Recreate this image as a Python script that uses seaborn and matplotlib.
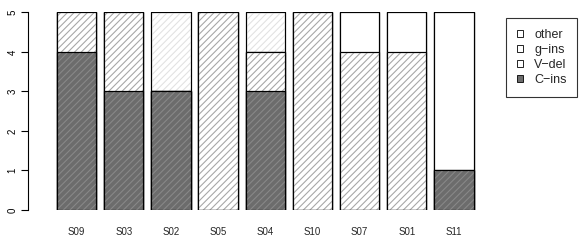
import matplotlib
matplotlib.use("Agg")
import matplotlib.pyplot as plt
from matplotlib.patches import Rectangle, Patch
import matplotlib.colors as mcolors
import seaborn as sns
import pandas as pd
import numpy as np

samples = ["S09", "S03", "S02", "S05", "S04", "S10", "S07", "S01", "S11"]
c_ins = [4, 3, 3, 0, 3, 0, 0, 0, 1]
v_del = [1, 2, 0, 5, 1, 5, 4, 4, 0]
g_ins = [0, 0, 0, 0, 0, 0, 1, 1, 4]
other = [0, 0, 2, 0, 1, 0, 0, 0, 0]
layer_names = ["C-ins", "V-del", "g-ins", "other"]
layer_values = [c_ins, v_del, g_ins, other]
y_ticks = [0, 1, 2, 3, 4, 5]

fills = {"C-ins": "#6c6c6c", "V-del": "white", "g-ins": "white", "other": "white"}
hatch_colors = {"C-ins": "#888888", "V-del": "#a8a8a8", "g-ins": None, "other": "#e2e2e2"}

sns.set_style("white")
plt.rcParams["font.family"] = ["Liberation Sans", "DejaVu Sans"]
plt.rcParams["hatch.linewidth"] = 0.8

W, H, DPI = 580, 242, 100
fig = plt.figure(figsize=(W / DPI, H / DPI), dpi=DPI)
left_px, right_px = 28, 480
bot_px, top_px = 210, 12.3
ax = fig.add_axes([left_px / W, 1 - bot_px / H, (right_px - left_px) / W, (bot_px - top_px) / H])

bar_w = 0.833
cum = np.cumsum(np.array(layer_values), axis=0)
order_draw = list(range(len(layer_names)))[::-1]
z = 1
for i in order_draw:
    name = layer_names[i]
    df = pd.DataFrame({"sample": samples, "value": cum[i]})
    n0 = len(ax.patches)
    sns.barplot(data=df, x="sample", y="value", order=samples, color=fills[name],
                saturation=1, edgecolor="black", linewidth=0.8, width=bar_w, ax=ax,
                errorbar=None)
    new = ax.patches[n0:]
    for p in new:
        p.set_zorder(z)
        p.set_facecolor(fills[name])
        if hatch_colors[name]:
            r = Rectangle(p.get_xy(), p.get_width(), p.get_height(), facecolor="none",
                          edgecolor=hatch_colors[name], linewidth=0, hatch="/////", zorder=z + 0.5)
            ax.add_patch(r)
        b = Rectangle(p.get_xy(), p.get_width(), p.get_height(), facecolor="none",
                      edgecolor="black", linewidth=0.8, zorder=z + 0.7)
        ax.add_patch(b)
    z += 1

ax.set_xlim(-(76.6 - left_px) / 47.2, 8 + (right_px - 454) / 47.2)
ax.set_ylim(0, 5)
ax.set_xlabel("")
ax.set_ylabel("")
for s in ["top", "right", "bottom"]:
    ax.spines[s].set_visible(False)
ax.spines["left"].set_linewidth(0.8)
ax.spines["left"].set_color("black")
ax.set_yticks(y_ticks)
ax.set_yticklabels([str(t) for t in y_ticks], rotation=90, va="center", fontsize=7)
ax.tick_params(axis="y", length=5, width=0.8, direction="out", pad=2.5, colors="black", left=True)
ax.tick_params(axis="x", length=0, pad=12.5, labelsize=7)

handles = []
for name in layer_names[::-1]:
    p = Patch(facecolor=fills[name], edgecolor="black", linewidth=0.6,
              hatch="/" if name == "V-del" else None,
              label=name.replace("-", "\u2212"))
    p._hatch_color = mcolors.to_rgba("#909090")
    handles.append(p)
leg = fig.legend(handles=handles, loc="upper left",
                 bbox_to_anchor=(506 / W, 1 - 18 / H), fontsize=9, frameon=True,
                 fancybox=False, handlelength=0.5, handleheight=0.45, handletextpad=0.9,
                 labelspacing=0.25, borderpad=0.85, borderaxespad=0)
leg.get_frame().set_edgecolor("black")
leg.get_frame().set_linewidth(0.8)

fig.savefig("out.png", dpi=DPI)
